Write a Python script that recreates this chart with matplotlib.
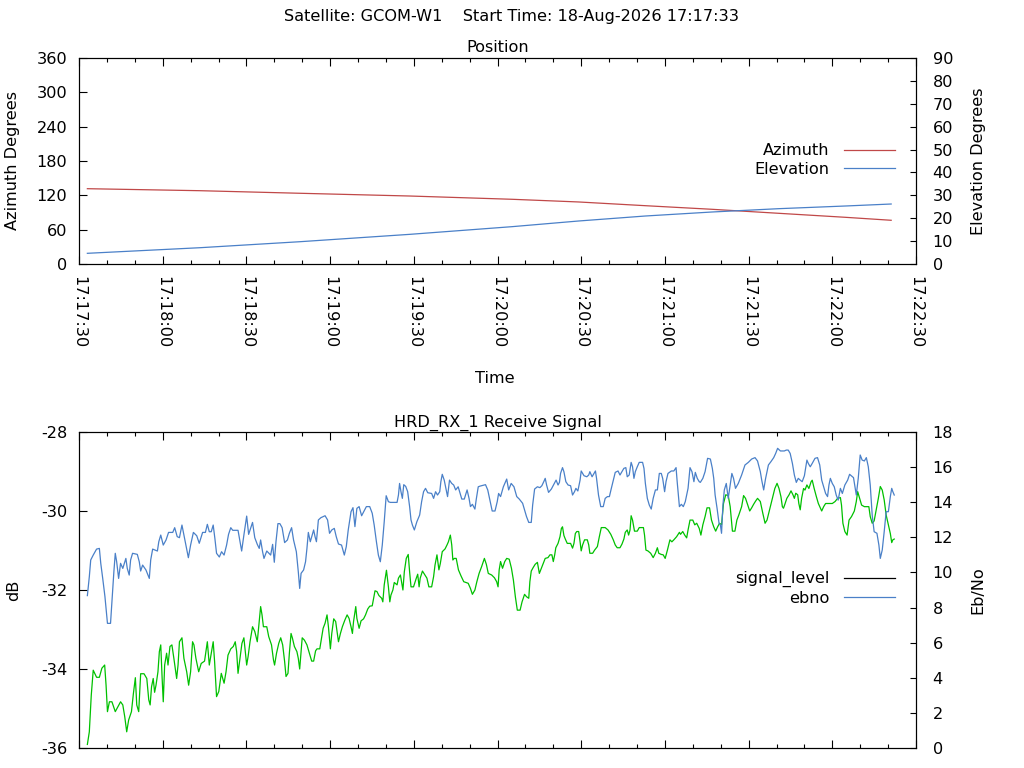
import numpy as np
import matplotlib
matplotlib.use("Agg")
import matplotlib.pyplot as plt
from matplotlib.ticker import MultipleLocator, FuncFormatter
from matplotlib.lines import Line2D

FS = 11.6
plt.rcParams['font.family'] = ['DejaVu Sans']
plt.rcParams['font.size'] = FS
plt.rcParams['axes.unicode_minus'] = False

# ---------------- data (time in seconds after 17:17:30) ----------------
start_seconds = 17 * 3600 + 17 * 60 + 30
suptitle = "Satellite: GCOM-W1    Start Time: 18-Aug-2026 17:17:33"

pos_t = [3.0, 43.4, 79.2, 118.6, 155.2, 179.1, 203.0, 226.9, 250.8, 274.7, 291.1]
azimuth = [131.6, 128.1, 123.6, 118.8, 113.1, 108.4, 101.9, 95.6, 88.6, 81.6, 76.4]
elevation = [4.67, 7.12, 9.74, 12.96, 16.31, 18.79, 20.97, 22.72, 24.17, 25.34, 26.21]

ebno_pts = [
    (3.0, 8.68), (3.7, 9.76), (4.2, 10.71), (5.1, 10.99), (6.3, 11.33), (7.3, 11.37), (7.8, 10.52),
    (8.5, 9.66), (9.3, 8.62), (10.2, 7.10), (11.3, 7.10), (11.9, 8.62), (12.5, 10.04), (13.0, 11.09),
    (13.5, 10.61), (14.2, 9.66), (14.9, 10.52), (15.7, 10.23), (16.8, 10.80), (17.3, 10.23), (18.0, 9.85),
    (18.5, 10.71), (19.2, 11.09), (20.9, 11.03), (21.6, 10.61), (22.1, 10.08), (22.8, 10.42), (24.0, 10.14),
    (25.2, 9.66), (25.7, 10.71), (26.4, 11.33), (28.1, 11.22), (28.6, 11.75), (29.3, 12.13), (30.2, 11.56),
    (31.2, 11.85), (32.1, 12.28), (33.6, 12.28), (34.3, 12.55), (35.2, 12.04), (36.0, 11.98), (36.9, 12.70),
    (37.6, 12.13), (38.3, 11.56), (39.2, 10.84), (40.0, 11.56), (41.0, 12.28), (42.2, 12.09), (43.1, 11.66),
    (44.3, 12.28), (45.3, 12.28), (46.0, 12.74), (46.7, 12.32), (47.4, 12.32), (48.1, 12.70), (48.7, 11.94),
    (49.3, 11.09), (50.3, 10.88), (51.1, 11.18), (52.0, 10.99), (52.9, 11.56), (53.6, 12.17), (54.4, 12.55),
    (55.1, 12.40), (57.0, 12.40), (57.7, 11.75), (58.3, 11.22), (59.1, 12.13), (60.1, 13.21), (60.8, 12.17),
    (62.2, 12.85), (63.0, 11.98), (63.9, 11.60), (64.6, 11.37), (65.1, 11.85), (65.8, 11.18), (66.3, 10.80),
    (67.3, 11.22), (68.7, 10.99), (69.4, 11.60), (70.0, 10.58), (70.6, 11.75), (71.3, 12.78), (72.0, 12.78),
    (72.8, 12.55), (73.7, 11.70), (74.7, 11.85), (75.4, 12.23),
    (76.2, 12.55), (76.9, 11.85), (77.9, 11.18), (78.6, 10.04), (79.1, 9.09), (79.6, 9.95), (80.5, 10.14),
    (81.2, 10.61), (81.7, 11.37), (82.2, 12.28), (82.9, 11.75), (83.6, 12.13), (84.1, 12.42), (84.6, 12.04),
    (85.1, 11.75), (85.8, 12.99), (86.7, 13.12), (88.2, 13.23), (89.1, 12.99), (89.8, 12.23), (90.6, 12.42),
    (91.5, 12.51), (92.2, 12.04), (93.0, 11.62), (94.1, 11.56), (95.1, 10.99), (95.8, 11.47), (96.5, 12.42),
    (97.5, 13.46), (98.2, 13.69), (98.9, 12.61), (99.6, 13.65), (100.4, 13.75), (101.3, 13.23), (103.0, 13.75),
    (104.2, 13.75), (105.1, 13.37), (105.8, 12.70), (106.6, 11.75), (107.3, 10.99), (108.0, 10.61),
    (108.7, 11.56), (109.4, 12.89), (110.1, 14.37), (110.9, 14.03), (111.6, 13.99), (114.0, 13.99),
    (114.5, 14.41), (114.9, 15.07), (115.4, 14.60), (115.9, 14.22), (116.4, 15.00), (117.1, 14.90),
    (117.8, 14.60), (118.5, 13.75), (119.0, 12.99), (119.5, 12.70), (120.2, 12.42), (121.1, 12.89),
    (122.1, 13.27), (122.8, 14.03), (123.5, 14.60), (124.2, 14.79), (125.0, 14.54), (126.4, 14.50),
    (127.1, 14.22), (127.8, 14.60), (128.5, 14.41), (129.3, 14.60), (129.7, 15.17), (130.2, 15.59),
    (130.9, 15.26), (131.4, 14.88), (132.1, 14.32), (132.8, 15.26), (133.6, 15.07), (134.3, 14.98),
    (135.0, 14.70), (135.9, 14.88), (137.2, 14.18), (138.1, 14.18), (139.1, 14.70), (139.8, 14.22),
    (140.3, 13.75), (141.0, 13.88), (141.9, 13.61), (142.4, 14.18), (143.1, 14.88), (143.8, 14.92),
    (145.7, 15.00), (146.5, 14.70), (147.4, 14.03), (148.1, 13.50), (149.1, 13.50),
    (149.9, 14.03), (150.4, 14.50), (151.1, 14.32), (152.1, 14.88), (153.3, 15.32), (154.0, 14.70),
    (154.9, 15.07), (155.9, 14.88), (156.9, 14.32), (157.8, 14.18), (159.0, 13.94), (159.7, 13.56),
    (160.4, 13.18), (161.2, 12.85), (162.1, 12.85), (162.6, 13.84), (163.3, 14.75), (164.3, 14.88),
    (165.2, 14.83), (165.9, 14.94), (166.7, 15.21), (167.1, 15.36), (167.6, 14.98), (168.3, 14.56),
    (169.3, 14.75), (170.2, 15.02), (171.0, 15.26), (171.7, 14.98), (172.2, 15.13), (172.6, 15.64),
    (173.3, 15.97), (173.8, 15.74), (174.5, 15.17), (175.3, 14.98), (176.2, 14.94), (176.9, 14.41),
    (177.6, 14.60), (178.1, 14.79), (178.8, 14.64), (179.6, 15.26), (180.0, 15.78), (181.0, 15.51),
    (182.0, 15.45), (182.7, 15.55), (183.1, 15.74), (183.9, 15.45), (184.6, 15.64), (185.1, 15.78),
    (185.5, 15.36), (186.2, 14.41), (187.0, 13.75), (187.9, 13.75), (188.6, 14.22), (189.4, 14.32),
    (190.1, 14.32), (190.8, 14.79), (191.7, 15.36), (192.2, 15.70), (193.2, 15.78), (193.9, 15.55),
    (194.6, 15.74), (195.3, 15.93), (196.0, 15.97), (196.5, 15.45), (197.2, 15.55), (197.9, 16.27),
    (198.4, 16.02), (198.9, 15.36), (199.4, 15.74), (200.1, 16.02), (200.8, 16.27), (202.0, 16.27),
    (202.5, 15.93), (203.0, 15.07), (203.7, 14.22), (204.4, 13.84), (205.1, 13.61), (205.8, 14.22),
    (206.6, 14.70), (207.3, 14.70), (208.0, 15.64), (208.7, 15.64), (209.2, 15.36), (209.9, 14.60),
    (210.4, 15.17), (211.1, 15.64), (212.3, 15.78), (213.2, 15.78), (214.0, 15.97), (214.4, 15.17),
    (215.2, 13.75), (215.9, 13.88), (216.6, 13.75), (217.3, 14.03), (218.3, 14.79), (219.0, 15.97),
    (219.7, 15.74), (220.4, 15.17), (220.9, 15.70), (221.6, 15.36), (222.3, 15.17),
    (222.7, 15.13), (223.6, 15.36), (224.4, 15.74), (225.3, 16.50), (226.3, 16.46), (227.0, 15.93),
    (227.5, 15.36), (228.0, 14.41), (228.7, 13.65), (229.4, 12.80), (229.9, 12.70), (230.3, 12.23),
    (230.8, 13.84), (231.3, 14.70), (232.0, 15.07), (232.7, 14.22), (234.0, 15.64), (234.6, 15.36),
    (235.3, 14.79), (236.3, 15.07), (237.5, 15.55), (238.7, 16.12), (239.9, 16.27), (241.1, 16.46),
    (242.3, 16.54), (243.2, 16.35), (244.2, 15.74), (244.7, 15.26), (245.4, 14.70), (246.1, 15.36),
    (247.1, 16.12), (248.0, 16.31), (249.0, 16.54), (249.7, 16.78), (250.4, 17.07), (251.4, 16.92),
    (252.8, 16.92), (253.5, 16.97), (254.2, 16.97), (254.9, 16.78), (255.7, 16.21), (256.4, 15.55),
    (257.1, 15.13), (257.8, 15.36), (258.5, 15.26), (259.2, 15.17), (260.0, 15.51), (260.9, 16.40),
    (261.4, 16.21), (262.1, 16.02), (262.8, 16.21), (263.8, 16.50), (264.7, 16.54), (265.5, 16.12),
    (266.2, 15.26), (266.9, 14.88), (267.6, 14.50), (268.3, 14.32), (268.8, 14.98), (269.3, 15.36),
    (270.0, 15.07), (270.7, 14.88), (271.4, 14.41), (272.1, 14.12), (272.9, 14.79), (273.6, 14.50),
    (274.5, 14.98), (275.5, 15.26), (276.2, 15.59), (277.6, 15.40), (278.6, 14.41), (279.3, 15.36),
    (280.0, 16.69), (280.7, 16.40), (281.5, 16.35), (282.2, 16.54), (282.9, 16.02), (283.6, 14.98),
    (284.3, 13.27), (285.0, 12.32), (286.0, 12.23), (286.7, 11.56), (287.2, 10.80), (287.9, 11.28),
    (288.6, 12.32), (289.3, 13.46), (290.1, 13.46), (290.8, 14.32), (291.3, 14.79), (291.7, 14.60),
    (292.2, 14.41),
]

signal_pts = [
    (3.0, -35.91), (3.7, -35.59), (4.4, -34.66), (5.1, -34.03), (6.3, -34.21), (7.3, -34.21), (8.2, -33.98),
    (9.2, -33.90), (9.7, -34.41), (10.2, -35.08), (10.9, -34.83), (11.8, -34.83), (13.0, -35.08),
    (14.9, -34.83), (15.7, -34.91), (16.4, -35.21), (17.1, -35.59), (17.8, -35.29), (18.8, -35.08),
    (19.5, -34.62), (20.2, -34.22), (20.7, -34.91), (21.4, -35.08), (22.1, -34.12), (23.3, -34.12),
    (24.3, -34.24), (25.0, -34.78), (25.5, -34.91), (26.0, -34.45), (26.6, -34.24), (27.1, -34.59),
    (27.6, -34.41), (28.3, -34.07), (28.8, -33.56), (29.3, -33.39), (29.8, -34.24), (30.2, -34.83),
    (30.7, -33.90), (31.4, -33.60), (31.9, -33.90), (32.6, -33.43), (33.3, -33.39), (34.0, -33.73),
    (35.0, -34.24), (35.5, -33.90), (36.0, -33.31), (36.9, -33.21), (37.6, -33.73), (38.6, -34.07),
    (39.3, -34.41), (40.0, -34.07), (40.7, -33.31), (41.2, -33.39), (41.9, -33.73), (42.9, -34.07),
    (43.8, -33.86), (45.0, -33.80), (46.0, -33.31), (46.7, -33.90), (47.7, -33.48), (48.1, -33.31),
    (48.6, -33.81), (49.3, -34.70), (50.1, -34.57), (51.0, -34.11), (52.0, -34.36), (52.7, -34.07),
    (53.4, -33.65), (54.4, -33.49), (55.3, -33.43), (56.0, -33.31), (56.5, -33.56), (57.0, -34.11),
    (57.7, -33.73), (58.4, -33.35), (59.1, -33.21), (59.6, -33.56), (60.1, -33.90), (60.6, -33.69),
    (61.3, -33.31), (62.2, -32.93), (63.0, -33.05), (63.9, -33.31), (64.6, -32.80), (65.1, -32.42),
    (65.6, -32.63), (66.1, -32.93), (67.3, -32.93), (68.0, -33.18), (69.0, -33.39), (69.7, -33.77),
    (70.1, -33.90), (70.8, -33.60), (71.6, -33.35), (72.3, -33.21), (73.0, -33.39), (73.7, -33.81),
    (74.2, -34.19), (74.9, -34.11), (75.4, -33.60),
    (76.0, -33.10), (76.5, -33.22), (77.2, -33.43), (78.1, -33.56), (78.6, -33.73), (79.1, -34.00),
    (79.6, -33.56), (80.0, -33.21), (80.8, -33.27), (81.7, -33.39), (82.4, -33.56), (83.4, -33.80),
    (84.1, -33.80), (84.8, -33.54), (85.3, -33.49), (86.3, -33.49), (87.0, -33.18), (87.5, -32.97),
    (88.2, -32.84), (88.9, -32.63), (89.4, -32.93), (90.1, -33.49), (90.6, -33.10), (91.3, -32.73),
    (92.0, -32.80), (92.5, -33.05), (93.0, -33.31), (93.7, -33.10), (94.4, -32.93), (95.3, -32.76),
    (96.1, -32.63), (96.8, -32.72), (97.5, -32.93), (98.0, -33.10), (98.4, -32.80), (99.2, -32.42),
    (99.6, -32.72), (100.4, -32.97), (101.1, -32.78), (102.0, -32.73), (102.7, -32.63), (103.5, -32.48),
    (104.2, -32.41), (105.1, -32.40), (106.1, -32.02), (106.8, -32.04), (107.5, -32.14), (108.5, -32.21),
    (108.9, -32.30), (109.4, -31.87), (110.2, -31.50), (110.9, -31.92), (111.4, -32.30), (111.8, -32.13),
    (112.5, -32.00), (113.0, -31.81), (114.0, -31.87), (114.5, -31.70), (115.2, -31.62), (115.6, -31.79),
    (116.1, -32.00), (116.6, -31.54), (117.3, -31.20), (118.0, -31.10), (118.5, -31.54), (119.0, -31.92),
    (119.9, -31.92), (120.9, -31.70), (121.4, -31.60), (121.9, -31.92), (122.3, -31.70), (123.1, -31.52),
    (124.0, -31.62), (124.7, -31.70), (125.4, -31.92), (126.4, -31.92), (127.1, -31.66), (127.6, -31.37),
    (128.3, -31.11), (129.0, -31.49), (129.5, -31.33), (130.2, -31.03), (131.2, -30.96), (131.9, -30.86),
    (132.4, -30.78), (133.1, -30.61), (133.6, -30.86), (134.0, -31.24), (134.5, -31.20), (135.2, -31.20),
    (136.0, -31.49), (136.9, -31.64), (137.9, -31.79), (139.5, -31.83), (140.3, -31.96), (141.0, -32.11),
    (141.9, -32.00), (142.6, -31.79), (143.4, -31.58), (144.3, -31.41), (145.3, -31.20), (146.0, -31.35),
    (146.7, -31.58), (147.9, -31.62), (148.9, -31.69),
    (149.7, -31.79), (150.2, -31.92), (150.6, -31.49), (151.1, -31.28), (151.8, -31.45), (152.6, -31.28),
    (153.3, -31.20), (154.2, -31.22), (155.0, -31.45), (155.7, -31.75), (156.4, -32.17), (157.1, -32.51),
    (158.1, -32.51), (158.8, -32.30), (159.7, -32.11), (160.4, -32.17), (161.2, -32.21), (161.6, -31.79),
    (162.1, -31.52), (162.8, -31.43), (163.5, -31.35), (164.3, -31.30), (165.0, -31.58), (165.5, -31.49),
    (166.2, -31.37), (167.1, -31.20), (168.1, -31.18), (168.8, -31.11), (169.5, -31.11), (170.0, -31.28),
    (170.5, -31.11), (170.9, -30.93), (171.7, -30.82), (172.4, -30.65), (172.9, -30.44), (173.3, -30.40),
    (173.8, -30.62), (174.3, -30.71), (175.0, -30.82), (176.2, -30.82), (176.9, -30.94), (177.4, -30.82),
    (177.9, -30.57), (178.4, -30.52), (179.1, -30.52), (179.6, -30.78), (180.0, -31.01), (180.5, -30.86),
    (181.2, -30.73), (182.2, -30.73), (182.7, -30.86), (183.1, -31.07), (184.1, -31.07), (184.8, -30.99),
    (185.8, -30.90), (186.5, -30.65), (187.2, -30.42), (188.6, -30.42), (189.6, -30.48), (190.6, -30.59),
    (191.5, -30.73), (192.2, -30.86), (192.9, -30.93), (193.9, -30.93), (194.6, -30.84), (195.3, -30.71),
    (195.8, -30.54), (196.5, -30.48), (197.0, -30.61), (197.5, -30.48), (197.9, -30.12), (198.4, -30.23),
    (199.1, -30.51), (200.1, -30.51), (200.8, -30.42), (202.3, -30.42), (202.7, -30.61), (203.2, -30.99),
    (203.9, -31.01), (204.9, -31.07), (205.8, -31.18), (206.6, -31.07), (207.3, -30.93), (207.8, -31.07),
    (208.7, -31.10), (209.4, -31.11), (210.1, -31.20), (210.9, -30.99), (211.8, -30.73), (212.5, -30.78),
    (213.2, -30.73), (214.2, -30.65), (215.2, -30.54), (215.6, -30.59), (216.4, -30.52), (217.1, -30.61),
    (217.8, -30.68), (218.3, -30.48), (219.0, -30.23), (220.0, -30.23), (220.7, -30.35), (221.4, -30.31),
    (222.3, -30.44), (222.9, -30.61), (223.6, -30.35), (224.4, -30.14), (225.1, -29.92), (226.0, -29.92),
    (226.7, -30.23), (227.5, -30.40), (228.2, -30.51), (228.9, -30.40), (229.6, -30.31), (230.3, -30.35),
    (231.0, -29.81), (231.8, -29.59), (232.7, -29.61), (233.4, -29.89), (234.2, -30.51), (235.1, -30.51),
    (235.8, -30.23), (236.5, -30.10), (237.5, -29.89), (238.2, -29.61), (238.9, -29.68), (239.6, -29.83),
    (240.4, -30.00), (241.1, -29.92), (241.8, -29.83), (242.5, -29.75), (243.2, -29.68), (244.2, -29.76),
    (245.1, -30.06), (245.9, -30.31), (246.6, -30.23), (247.5, -29.97), (248.5, -29.68), (249.4, -29.43),
    (250.2, -29.30), (250.9, -29.43), (251.6, -29.64), (252.1, -29.89), (252.5, -29.93), (253.0, -29.83),
    (253.7, -29.68), (254.5, -29.59), (255.2, -29.49), (255.9, -29.59), (256.4, -29.68), (256.9, -29.55),
    (257.6, -29.59), (258.0, -29.81), (258.5, -29.97), (259.0, -29.68), (259.7, -29.43), (260.2, -29.47),
    (260.9, -29.34), (261.6, -29.43), (262.4, -29.26), (262.8, -29.22), (263.5, -29.43), (264.3, -29.64),
    (265.0, -29.81), (265.7, -29.92), (266.2, -30.00), (266.9, -29.89), (267.6, -29.81), (270.0, -29.81),
    (271.0, -29.76), (271.9, -29.68), (272.9, -29.66), (273.3, -29.85), (273.8, -30.31), (274.5, -30.52),
    (275.3, -30.61), (276.0, -30.23), (276.9, -30.14), (277.9, -30.00), (278.6, -29.76), (279.1, -29.51),
    (279.8, -29.68), (280.5, -29.85), (281.5, -29.89), (283.1, -29.89), (283.6, -30.14), (284.3, -30.31),
    (285.0, -30.25), (285.8, -29.95), (286.5, -29.68), (287.2, -29.38), (287.9, -29.47), (288.6, -29.72),
    (289.3, -30.10), (290.1, -30.35), (290.8, -30.57), (291.3, -30.80), (291.7, -30.73), (292.2, -30.71),
]

az_ticks = list(range(0, 361, 60))
el_ticks = list(range(0, 91, 10))
db_ticks = list(range(-36, -27, 2))
ebno_ticks = list(range(0, 19, 2))

# ---------------- colours / styles ----------------
RED = "#c04848"
BLUE = "#4a80c8"
GREEN = "#00c000"
LW = 0.9


def time_fmt(x, pos):
    s = int(round(x)) + start_seconds
    return f"{s // 3600:02d}:{(s % 3600) // 60:02d}:{s % 60:02d}"


fig = plt.figure(figsize=(10.24, 7.68), dpi=100)
W, H = 1024.0, 768.0
ax1 = fig.add_axes([79 / W, 1 - 264 / H, 837 / W, 206 / H])
ax1r = ax1.twinx()
ax2 = fig.add_axes([79 / W, 1 - 748 / H, 837 / W, 316 / H])
ax2r = ax2.twinx()

# ---- top: position ----
l_az, = ax1.plot(pos_t, azimuth, color=RED, lw=LW, label="Azimuth")
l_el, = ax1r.plot(pos_t, elevation, color=BLUE, lw=LW, label="Elevation")

# ---- bottom: signal ----
sig = np.array(signal_pts).T
eb = np.array(ebno_pts).T
ax2.plot(sig[0], sig[1], color=GREEN, lw=LW)
l_eb, = ax2r.plot(eb[0], eb[1], color=BLUE, lw=LW, label="ebno")
sig_proxy = Line2D([], [], color="black", lw=LW, label="signal_level")

for a in (ax1, ax2):
    a.set_xlim(0, 300)
    a.xaxis.set_major_locator(MultipleLocator(30))
    a.xaxis.set_minor_locator(MultipleLocator(10))
    a.tick_params(axis='x', which='major', direction='in', length=5.8, width=0.8,
                  top=True, bottom=True, pad=9)
    a.tick_params(axis='x', which='minor', direction='in', length=2.9, width=0.8,
                  top=True, bottom=True)
    a.tick_params(axis='y', which='major', direction='in', length=5.8, width=0.8,
                  pad=8.5, labelsize=FS)
    for s in a.spines.values():
        s.set_linewidth(0.8)
for a in (ax1r, ax2r):
    a.tick_params(axis='y', which='major', direction='in', length=4.3, width=0.8,
                  pad=12, labelsize=FS)
    for s in a.spines.values():
        s.set_linewidth(0.8)

ax1.xaxis.set_major_formatter(FuncFormatter(time_fmt))
ax1.tick_params(axis='x', labelrotation=270, labelsize=FS)
ax2.tick_params(axis='x', labelbottom=False)

ax1.set_ylim(0, 360)
ax1.set_yticks(az_ticks)
ax1r.set_ylim(0, 90)
ax1r.set_yticks(el_ticks)
ax2.set_ylim(-36, -28)
ax2.set_yticks(db_ticks)
ax2r.set_ylim(0, 18)
ax2r.set_yticks(ebno_ticks)

ax1.set_title("Position", fontsize=FS, pad=4)
ax2.set_title("HRD_RX_1 Receive Signal", fontsize=FS, pad=4)

leg_kw = dict(frameon=False, markerfirst=False, handlelength=3.2, handletextpad=0.85,
              labelspacing=0.2, borderpad=0, borderaxespad=0, loc='center right',
              alignment='right', fontsize=FS)
ax1r.legend(handles=[l_az, l_el], bbox_to_anchor=(0.975, 0.505), **leg_kw)
ax2r.legend(handles=[sig_proxy, l_eb], bbox_to_anchor=(0.975, 0.505), **leg_kw)

fig.text(511 / W, 1 - 17 / H, suptitle, ha='center', va='center', fontsize=FS)
fig.text(13 / W, 1 - 161 / H, "Azimuth Degrees", rotation=90, ha='center', va='center', fontsize=FS)
fig.text(978 / W, 1 - 161 / H, "Elevation Degrees", rotation=90, ha='center', va='center', fontsize=FS)
fig.text(495 / W, 1 - 379 / H, "Time", ha='center', va='center', fontsize=FS)
fig.text(14 / W, 1 - 590 / H, "dB", rotation=90, ha='center', va='center', fontsize=FS)
fig.text(978 / W, 1 - 590 / H, "Eb/No", rotation=90, ha='center', va='center', fontsize=FS)

fig.savefig("out.png", dpi=100)
